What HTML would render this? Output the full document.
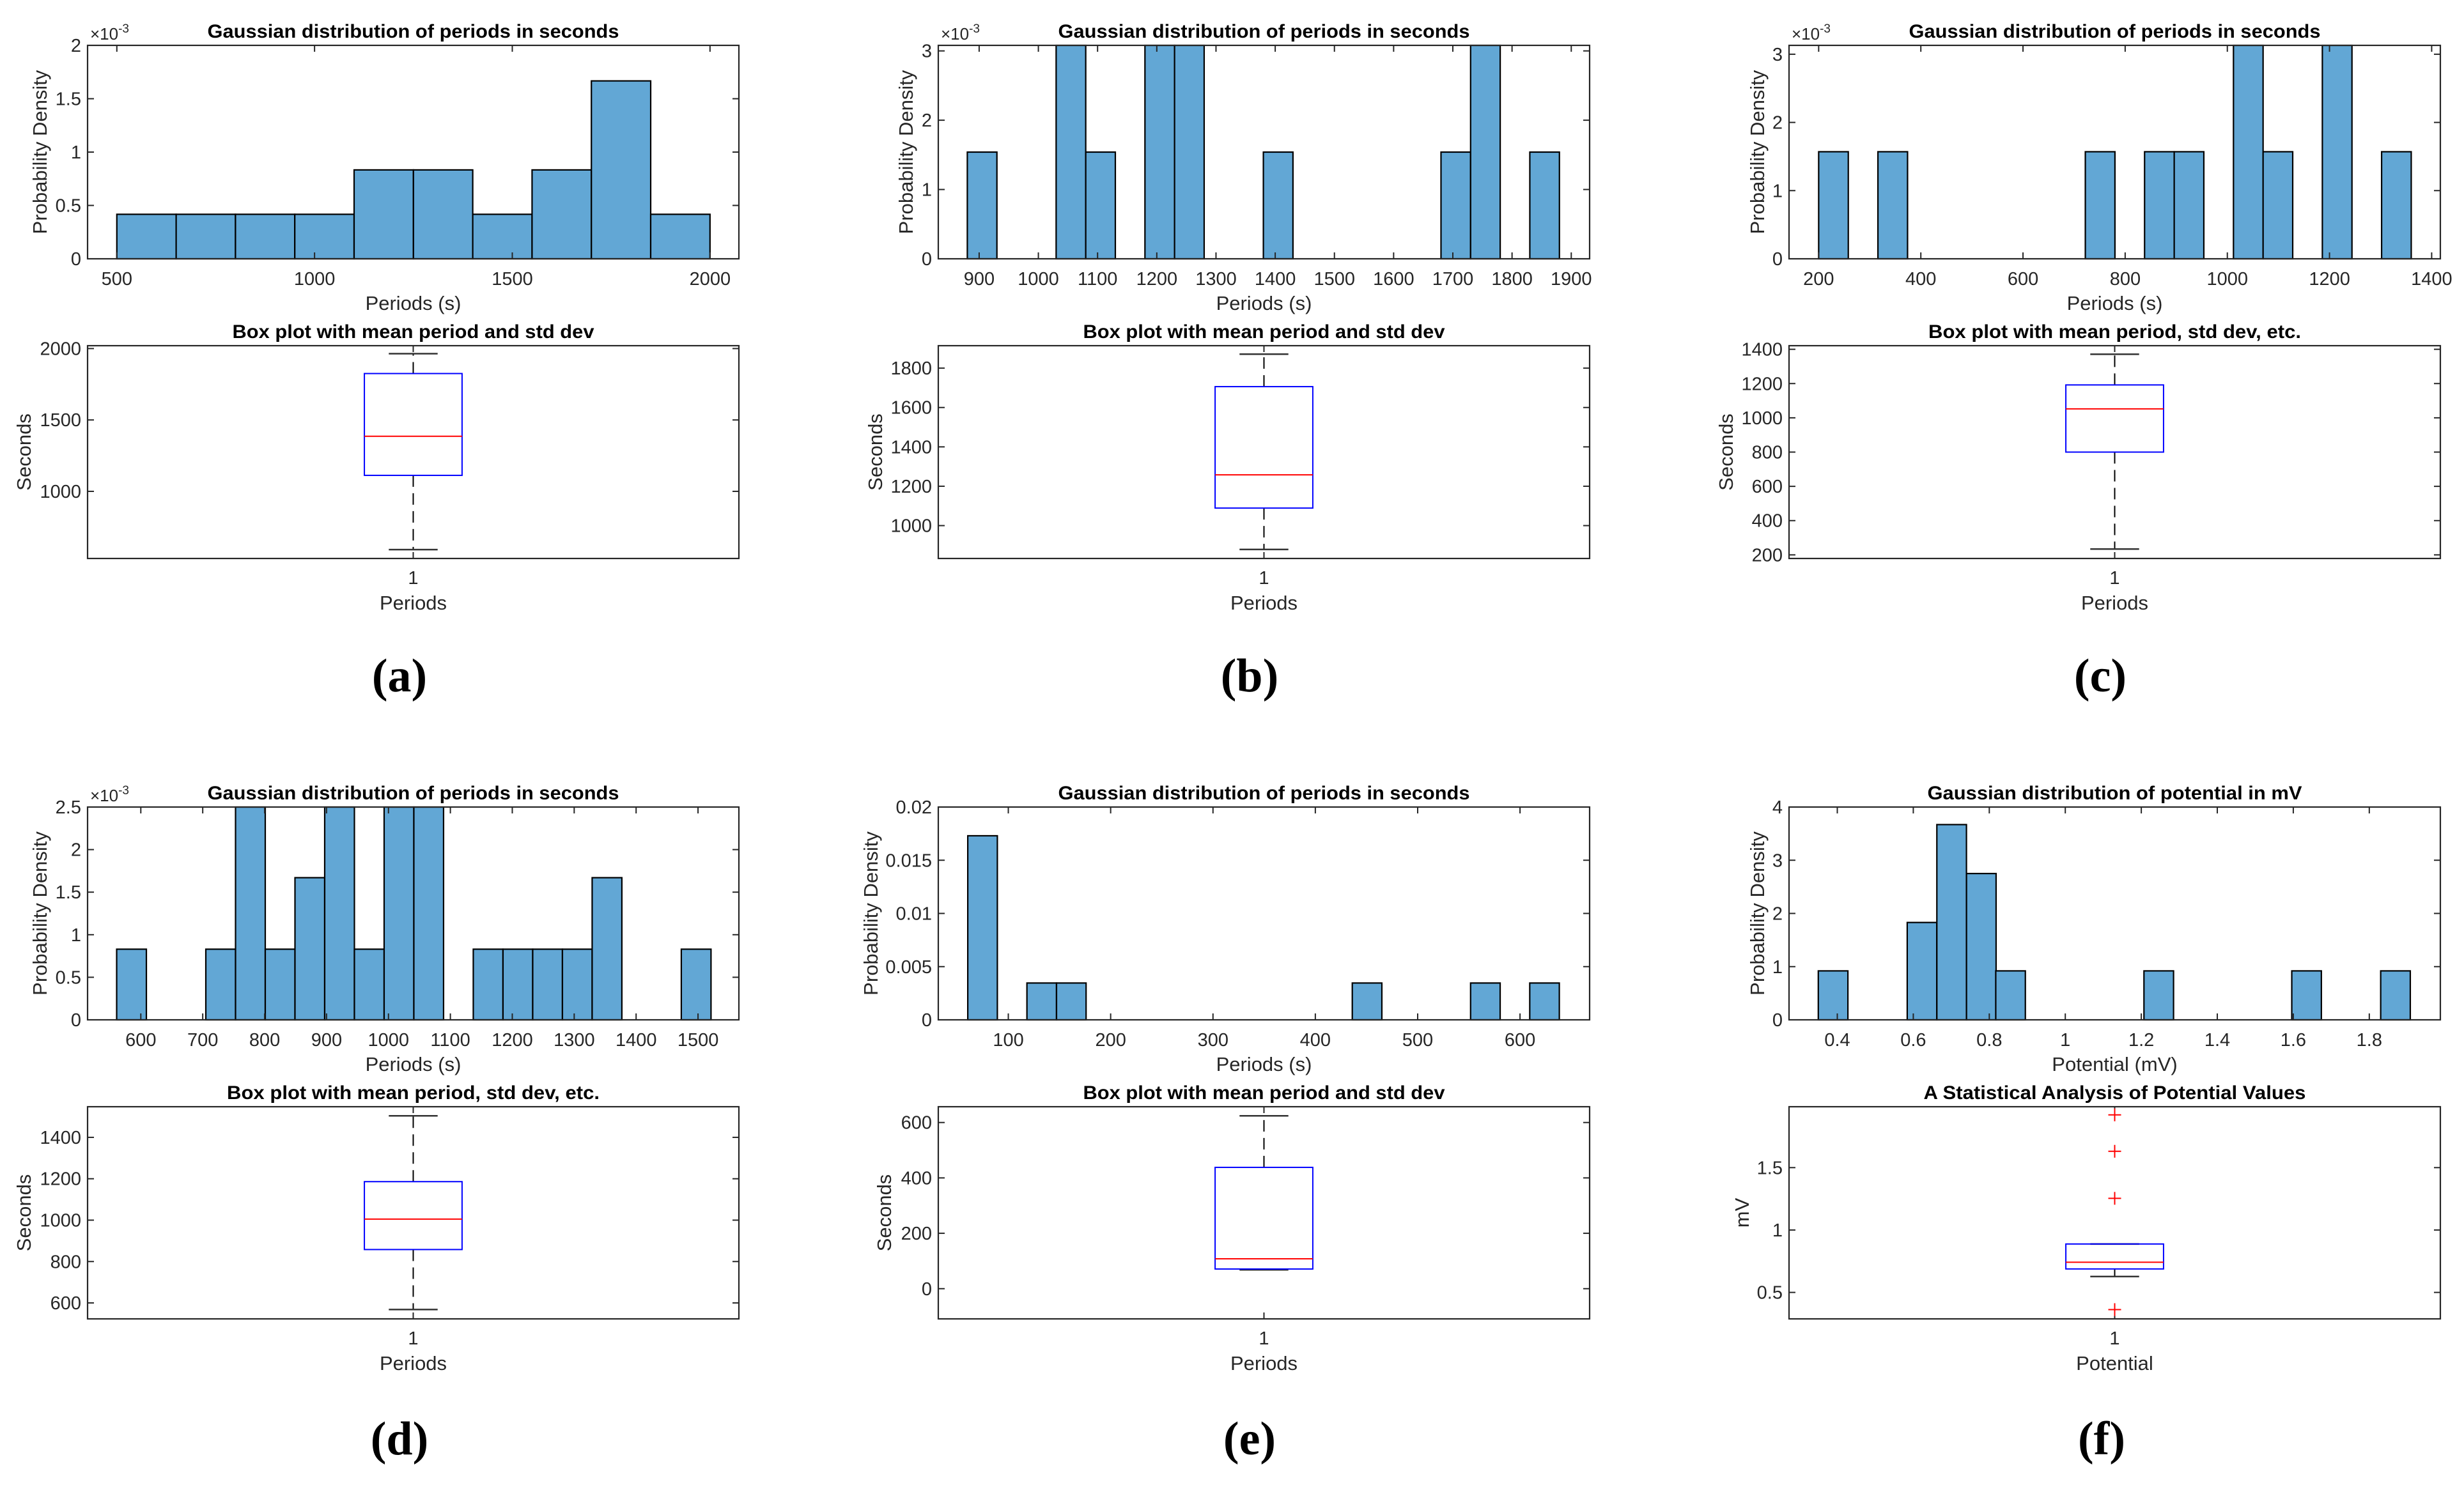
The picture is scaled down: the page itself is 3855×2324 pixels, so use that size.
<!DOCTYPE html>
<html><head><meta charset="utf-8"><style>
html,body{margin:0;padding:0;background:#fff;}
svg{display:block;font-family:"Liberation Sans",Arial,sans-serif;}
</style></head><body>
<svg id="fig" width="3855" height="2324" viewBox="0 0 3855 2324" xmlns="http://www.w3.org/2000/svg"></svg>
<script>
// ---------- DATA ----------
// (a)
const aBins = [500,650,800,950,1100,1250,1400,1550,1700,1850];
const aDens = [0.417,0.417,0.417,0.417,0.833,0.833,0.417,0.833,1.667,0.417];
const aXTicks = [500,1000,1500,2000];
const aYTicks = [0,0.5,1,1.5,2];
const aYTickLabels = ['0','0.5','1','1.5','2'];
const aBox = [592,1112,1386,1825,1964];
const aOut = [];
const aBoxTicks = [1000,1500,2000];
// (b)
const bBins = [880,1030,1080,1180,1230,1380,1680,1730,1830];
const bDens = [1.54,3.08,1.54,3.08,3.08,1.54,1.54,3.08,1.54];
const bXTicks = [900,1000,1100,1200,1300,1400,1500,1600,1700,1800,1900];
const bYTicks = [0,1,2,3];
const bYTickLabels = ['0','1','2','3'];
const bBox = [879,1089,1258,1706,1871];
const bOut = [];
const bBoxTicks = [1000,1200,1400,1600,1800];
// (c)
const cBins = [200,316,722,838,896,1012,1070,1186,1302];
const cDens = [1.57,1.57,1.57,1.57,1.57,3.13,1.57,3.13,1.57];
const cXTicks = [200,400,600,800,1000,1200,1400];
const cYTicks = [0,1,2,3];
const cYTickLabels = ['0','1','2','3'];
const cBox = [234,800,1052,1192,1371];
const cOut = [];
const cBoxTicks = [200,400,600,800,1000,1200,1400];
// (d)
const dBins = [561,705,753,801,849,897,945,993,1041,1137,1185,1233,1281,1329,1473];
const dDens = [0.83,0.83,2.5,0.83,1.67,2.5,0.83,2.5,2.5,0.83,0.83,0.83,0.83,1.67,0.83];
const dXTicks = [600,700,800,900,1000,1100,1200,1300,1400,1500];
const dYTicks = [0,0.5,1,1.5,2,2.5];
const dYTickLabels = ['0','0.5','1','1.5','2','2.5'];
const dBox = [568,858,1005,1186,1504];
const dOut = [];
const dBoxTicks = [600,800,1000,1200,1400];
// (e)
const eBins = [60.4,118.2,147.1,436.1,551.7,609.5];
const eDens = [0.0173,0.00346,0.00346,0.00346,0.00346,0.00346];
const eXTicks = [100,200,300,400,500,600];
const eYTicks = [0,0.005,0.01,0.015,0.02];
const eYTickLabels = ['0','0.005','0.01','0.015','0.02'];
const eBox = [68,71,108,438,624];
const eOut = [];
const eBoxTicks = [0,200,400,600];
// (f)
const fBins = [0.350,0.584,0.662,0.740,0.817,1.207,1.596,1.830];
const fDens = [0.92,1.83,3.67,2.75,0.92,0.92,0.92,0.92];
const fXTicks = [0.4,0.6,0.8,1,1.2,1.4,1.6,1.8];
const fYTicks = [0,1,2,3,4];
const fYTickLabels = ['0','1','2','3','4'];
const fBox = [0.627,0.688,0.742,0.888,0.888];
const fOut = [1.923,1.631,1.254,0.362];
const fBoxTicks = [0.5,1,1.5];

// ---------- DRAWING ----------
const NS = 'http://www.w3.org/2000/svg';
const svg = document.getElementById('fig');
function mk(parent, tag, attrs, text){
  const el = document.createElementNS(NS, tag);
  for (const k in attrs) el.setAttribute(k, attrs[k]);
  if (text !== undefined) el.textContent = text;
  parent.appendChild(el);
  return el;
}
const AX = '#262626';
function fmt(v){ return String(Math.round(v*1000)/1000); }

function drawHist(g, c){
  const sx = v => c.x0 + (v - c.xlim[0]) / (c.xlim[1]-c.xlim[0]) * (c.x1-c.x0);
  const sy = v => c.y1 - (v - c.ylim[0]) / (c.ylim[1]-c.ylim[0]) * (c.y1-c.y0);
  c.bins.forEach((b,i)=>{
    const top = Math.max(sy(c.dens[i]), c.y0);
    const r = mk(g,'rect',{x:sx(b),y:top,width:sx(b+c.width)-sx(b),height:c.y1-top,fill:'#62a7d5',stroke:'#000','stroke-width':2.2});
    
    
  });
  const box = mk(g,'rect',{x:c.x0,y:c.y0,width:c.x1-c.x0,height:c.y1-c.y0,fill:'none',stroke:AX,'stroke-width':2.2});
  
  
  c.xticks.forEach(t=>{
    const x = sx(t);
    mk(g,'line',{x1:x,y1:c.y1,x2:x,y2:c.y1-10,stroke:AX,'stroke-width':2});
    mk(g,'line',{x1:x,y1:c.y0,x2:x,y2:c.y0+10,stroke:AX,'stroke-width':2});
    const tl = mk(g,'text',{x:x,y:c.y1+41,'text-anchor':'middle','font-size':29,fill:AX},fmt(t));
    
    
  });
  c.yticks.forEach((t,i)=>{
    const y = sy(t);
    mk(g,'line',{x1:c.x0,y1:y,x2:c.x0+10,y2:y,stroke:AX,'stroke-width':2});
    mk(g,'line',{x1:c.x1,y1:y,x2:c.x1-10,y2:y,stroke:AX,'stroke-width':2});
    const tl = mk(g,'text',{x:c.x0-10,y:y+10,'text-anchor':'end','font-size':29,fill:AX},c.ylabels[i]);
    
    
  });
  const tt = mk(g,'text',{x:(c.x0+c.x1)/2,y:c.y0-12,'text-anchor':'middle','font-size':30,'font-weight':'bold',fill:'#000',textLength:c.tlen,lengthAdjust:'spacingAndGlyphs'},c.title);
  
  
  const xl = mk(g,'text',{x:(c.x0+c.x1)/2,y:c.y1+80,'text-anchor':'middle','font-size':31,fill:AX},c.xlabel);
  
  
  const yl = mk(g,'text',{x:c.ylx,y:(c.y0+c.y1)/2,'text-anchor':'middle','font-size':31,fill:AX,transform:`rotate(-90 ${c.ylx} ${(c.y0+c.y1)/2})`,dy:11},'Probability Density');
  
  
  if (c.mult){
    const m = mk(g,'text',{x:c.x0+4,y:c.y0-9,'font-size':26,fill:AX},'×10');
    mk(m,'tspan',{dy:-11,'font-size':19},'-3');
    
    
  }
}

function drawBox(g, c){
  const sy = v => c.y1 - (v - c.ylim[0]) / (c.ylim[1]-c.ylim[0]) * (c.y1-c.y0);
  const W = c.x1-c.x0;
  const cx = (c.x0+c.x1)/2, bw = 0.15*W, cw = 0.075*W;
  const s = c.stats;
  const fr = mk(g,'rect',{x:c.x0,y:c.y0,width:W,height:c.y1-c.y0,fill:'none',stroke:AX,'stroke-width':2.2});
  
  
  // ticks
  c.yticks.forEach(t=>{
    const y = sy(t);
    mk(g,'line',{x1:c.x0,y1:y,x2:c.x0+10,y2:y,stroke:AX,'stroke-width':2});
    mk(g,'line',{x1:c.x1,y1:y,x2:c.x1-10,y2:y,stroke:AX,'stroke-width':2});
    const tl = mk(g,'text',{x:c.x0-10,y:y+10,'text-anchor':'end','font-size':29,fill:AX},fmt(t));
    
    
  });
  mk(g,'line',{x1:cx,y1:c.y1,x2:cx,y2:c.y1-10,stroke:AX,'stroke-width':2});
  mk(g,'line',{x1:cx,y1:c.y0,x2:cx,y2:c.y0+10,stroke:AX,'stroke-width':2});
  const one = mk(g,'text',{x:cx,y:c.y1+40,'text-anchor':'middle','font-size':29,fill:AX},'1');
  
  
  // whiskers
  const w1 = mk(g,'line',{x1:cx,y1:sy(s[3]),x2:cx,y2:sy(s[4]),stroke:'#000','stroke-width':2,'stroke-dasharray':'18 10'});
  
  
  const w2 = mk(g,'line',{x1:cx,y1:sy(s[1]),x2:cx,y2:sy(s[0]),stroke:'#000','stroke-width':2,'stroke-dasharray':'18 10'});
  
  
  const cap1 = mk(g,'line',{x1:cx-cw/2,y1:sy(s[4]),x2:cx+cw/2,y2:sy(s[4]),stroke:'#333','stroke-width':2.5});
  
  
  const cap2 = mk(g,'line',{x1:cx-cw/2,y1:sy(s[0]),x2:cx+cw/2,y2:sy(s[0]),stroke:'#333','stroke-width':2.5});
  
  
  const bx = mk(g,'rect',{x:cx-bw/2,y:sy(s[3]),width:bw,height:sy(s[1])-sy(s[3]),fill:'none',stroke:'#0000ff','stroke-width':2});
  
  
  const md = mk(g,'line',{x1:cx-bw/2,y1:sy(s[2]),x2:cx+bw/2,y2:sy(s[2]),stroke:'#ff0000','stroke-width':2});
  
  
  c.out.forEach(v=>{
    const y = sy(v);
    const o = mk(g,'path',{d:`M${cx-10},${y}H${cx+10}M${cx},${y-10}V${y+10}`,stroke:'#ff0000','stroke-width':2,fill:'none'});
    
    
  });
  const tt = mk(g,'text',{x:cx,y:c.y0-12,'text-anchor':'middle','font-size':30,'font-weight':'bold',fill:'#000',textLength:c.tlen,lengthAdjust:'spacingAndGlyphs'},c.title);
  
  
  const xl = mk(g,'text',{x:cx,y:c.y1+80,'text-anchor':'middle','font-size':31,fill:AX},c.xlabel);
  
  
  const ym = (c.y0+c.y1)/2;
  const yl = mk(g,'text',{x:c.ylx,y:ym,'text-anchor':'middle','font-size':31,fill:AX,transform:`rotate(-90 ${c.ylx} ${ym})`,dy:11},c.ylabel);
  
  
}

const cols = [[137,1156],[1468,2487],[2799,3818]];
const rowsH = [[71,405],[1263,1596]];
const rowsB = [[541,874],[1732,2064]];
const T1 = 'Gaussian distribution of periods in seconds';
const panels = [
  {id:'a',col:0,row:0,h:{xlim:[426,2073],ylim:[0,2],bins:aBins,dens:aDens,width:150,xticks:aXTicks,yticks:aYTicks,ylabels:aYTickLabels,title:T1,tlen:644,xlabel:'Periods (s)',ylx:62,mult:true},
   b:{ylim:[530,2020],yticks:aBoxTicks,stats:aBox,out:aOut,title:'Box plot with mean period and std dev',tlen:566,xlabel:'Periods',ylabel:'Seconds',ylx:37},lx:625},
  {id:'b',col:1,row:0,h:{xlim:[831,1931],ylim:[0,3.08],bins:bBins,dens:bDens,width:50,xticks:bXTicks,yticks:bYTicks,ylabels:bYTickLabels,title:T1,tlen:644,xlabel:'Periods (s)',ylx:1417,mult:true},
   b:{ylim:[833,1914],yticks:bBoxTicks,stats:bBox,out:bOut,title:'Box plot with mean period and std dev',tlen:566,xlabel:'Periods',ylabel:'Seconds',ylx:1369},lx:1955},
  {id:'c',col:2,row:0,h:{xlim:[142,1417],ylim:[0,3.13],bins:cBins,dens:cDens,width:58,xticks:cXTicks,yticks:cYTicks,ylabels:cYTickLabels,title:T1,tlen:644,xlabel:'Periods (s)',ylx:2749,mult:true},
   b:{ylim:[179,1421],yticks:cBoxTicks,stats:cBox,out:cOut,title:'Box plot with mean period, std dev, etc.',tlen:583,xlabel:'Periods',ylabel:'Seconds',ylx:2700},lx:3286},
  {id:'d',col:0,row:1,h:{xlim:[514,1566],ylim:[0,2.5],bins:dBins,dens:dDens,width:48,xticks:dXTicks,yticks:dYTicks,ylabels:dYTickLabels,title:T1,tlen:644,xlabel:'Periods (s)',ylx:62,mult:true},
   b:{ylim:[523,1548],yticks:dBoxTicks,stats:dBox,out:dOut,title:'Box plot with mean period, std dev, etc.',tlen:583,xlabel:'Periods',ylabel:'Seconds',ylx:37},lx:625},
  {id:'e',col:1,row:1,h:{xlim:[31.6,668],ylim:[0,0.02],bins:eBins,dens:eDens,width:28.9,xticks:eXTicks,yticks:eYTicks,ylabels:eYTickLabels,title:T1,tlen:644,xlabel:'Periods (s)',ylx:1362,mult:false},
   b:{ylim:[-109,657],yticks:eBoxTicks,stats:eBox,out:eOut,title:'Box plot with mean period and std dev',tlen:566,xlabel:'Periods',ylabel:'Seconds',ylx:1383},lx:1955},
  {id:'f',col:2,row:1,h:{xlim:[0.273,1.987],ylim:[0,4],bins:fBins,dens:fDens,width:0.0779,xticks:fXTicks,yticks:fYTicks,ylabels:fYTickLabels,title:'Gaussian distribution of potential in mV',tlen:586,xlabel:'Potential (mV)',ylx:2749,mult:false},
   b:{ylim:[0.288,1.988],yticks:fBoxTicks,stats:fBox,out:fOut,title:'A Statistical Analysis of Potential Values',tlen:598,xlabel:'Potential',ylabel:'mV',ylx:2725},lx:3288}
];
panels.forEach(p=>{
  const g = mk(svg,'g',{});
  
  
  const gh = mk(g,'g',{});
  
  
  drawHist(gh, Object.assign({x0:cols[p.col][0],x1:cols[p.col][1],y0:rowsH[p.row][0],y1:rowsH[p.row][1]}, p.h));
  const gb = mk(g,'g',{});
  
  
  drawBox(gb, Object.assign({x0:cols[p.col][0],x1:cols[p.col][1],y0:rowsB[p.row][0],y1:rowsB[p.row][1]}, p.b));
  const ly = p.row === 0 ? 1082 : 2276;
  const lab = mk(g,'text',{x:p.lx,y:ly,'text-anchor':'middle','font-size':74,'font-weight':'bold','font-family':'"Liberation Serif",serif',fill:'#000'},'(' + p.id + ')');
  
  
});
</script>
</body></html>
